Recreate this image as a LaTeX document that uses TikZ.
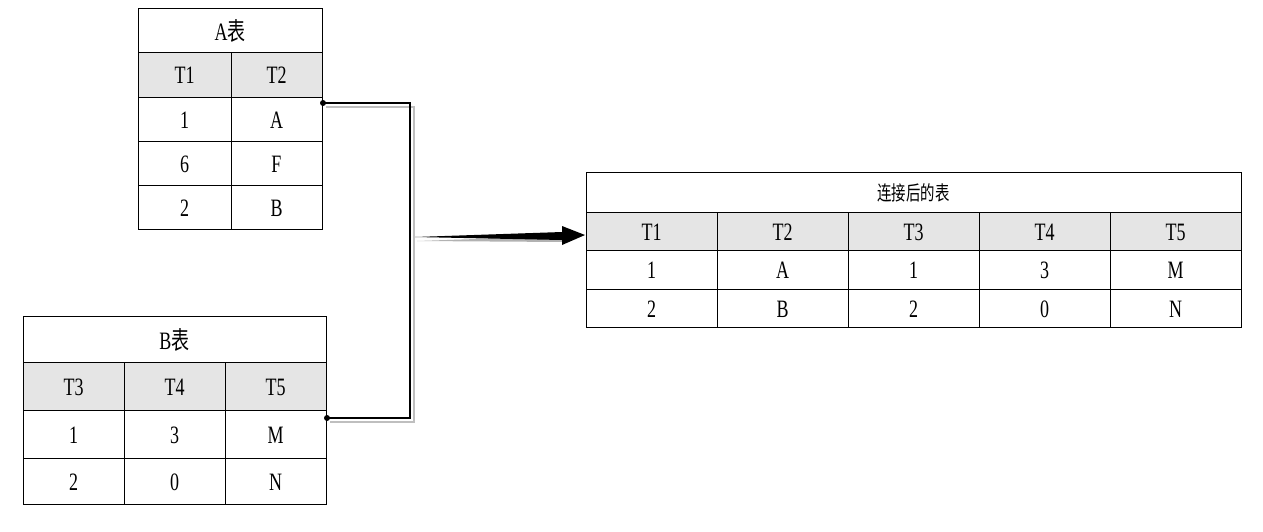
\documentclass[tikz,border=0pt]{standalone}
\usepackage{fontspec}
\setmainfont{Liberation Serif}
\newfontfamily\cjk{Noto Sans CJK SC}
\usetikzlibrary{arrows.meta}
\begin{document}
\begin{tikzpicture}[x=1pt,y=-1pt,
  cellbox/.style={draw=black,line width=0.9pt,inner sep=0pt},
  hdr/.style={fill=black!10},
  txt/.style={font=\fontsize{25}{25}\selectfont,xscale=0.72},
  conn/.style={line width=2pt,black}]
\useasboundingbox (0,0) rectangle (1263,531);
\newcommand{\cellat}[6]{%
  \path[cellbox,#5] (#1,#2) rectangle (#3,#4);
  \node[txt,transform shape] at ({(#1+#3)/2},{(#2+#4)/2+1}) {#6};}
% Table A
\cellat{138}{8}{322}{52}{fill=white}{A{\cjk 表}}
\cellat{138}{52}{231}{97}{hdr}{T1}\cellat{231}{52}{322}{97}{hdr}{T2}
\cellat{138}{97}{231}{141}{fill=white}{1}\cellat{231}{97}{322}{141}{fill=white}{A}
\cellat{138}{141}{231}{185}{fill=white}{6}\cellat{231}{141}{322}{185}{fill=white}{F}
\cellat{138}{185}{231}{229}{fill=white}{2}\cellat{231}{185}{322}{229}{fill=white}{B}
% Table B
\cellat{23}{316}{326}{362}{fill=white}{B{\cjk 表}}
\cellat{23}{362}{124}{410}{hdr}{T3}\cellat{124}{362}{225}{410}{hdr}{T4}\cellat{225}{362}{326}{410}{hdr}{T5}
\cellat{23}{410}{124}{458}{fill=white}{1}\cellat{124}{410}{225}{458}{fill=white}{3}\cellat{225}{410}{326}{458}{fill=white}{M}
\cellat{23}{458}{124}{504}{fill=white}{2}\cellat{124}{458}{225}{504}{fill=white}{0}\cellat{225}{458}{326}{504}{fill=white}{N}
% Result
\cellat{586}{172}{1241}{212}{fill=white}{{\cjk\fontsize{20}{20}\selectfont 连接后的表}}
\cellat{586}{212}{717}{250}{hdr}{T1}\cellat{717}{212}{848}{250}{hdr}{T2}\cellat{848}{212}{979}{250}{hdr}{T3}\cellat{979}{212}{1110}{250}{hdr}{T4}\cellat{1110}{212}{1241}{250}{hdr}{T5}
\cellat{586}{250}{717}{289}{fill=white}{1}\cellat{717}{250}{848}{289}{fill=white}{A}\cellat{848}{250}{979}{289}{fill=white}{1}\cellat{979}{250}{1110}{289}{fill=white}{3}\cellat{1110}{250}{1241}{289}{fill=white}{M}
\cellat{586}{289}{717}{327}{fill=white}{2}\cellat{717}{289}{848}{327}{fill=white}{B}\cellat{848}{289}{979}{327}{fill=white}{2}\cellat{979}{289}{1110}{327}{fill=white}{0}\cellat{1110}{289}{1241}{327}{fill=white}{N}
% connector
\coordinate (pa) at (323,103);
\coordinate (pb) at (327,418);
\draw[line width=2pt,black!25] (326,107) -- (414,107) -- (414,422) -- (330,422);
\draw[conn] (pa) -- (410,103) -- (410,418) -- (pb);
\fill (pa) circle (3); \fill (pb) circle (3);
% arrow
\coordinate (as) at (415,237);
\coordinate (ae) at (585,235);
\fill[black!30] (417,241) -- (565,236) -- (565,242) -- cycle;
\fill[black] (as) -- (562,232) -- (562,226) -- (ae) -- (562,245) -- (562,240) -- cycle;
\end{tikzpicture}
\end{document}
